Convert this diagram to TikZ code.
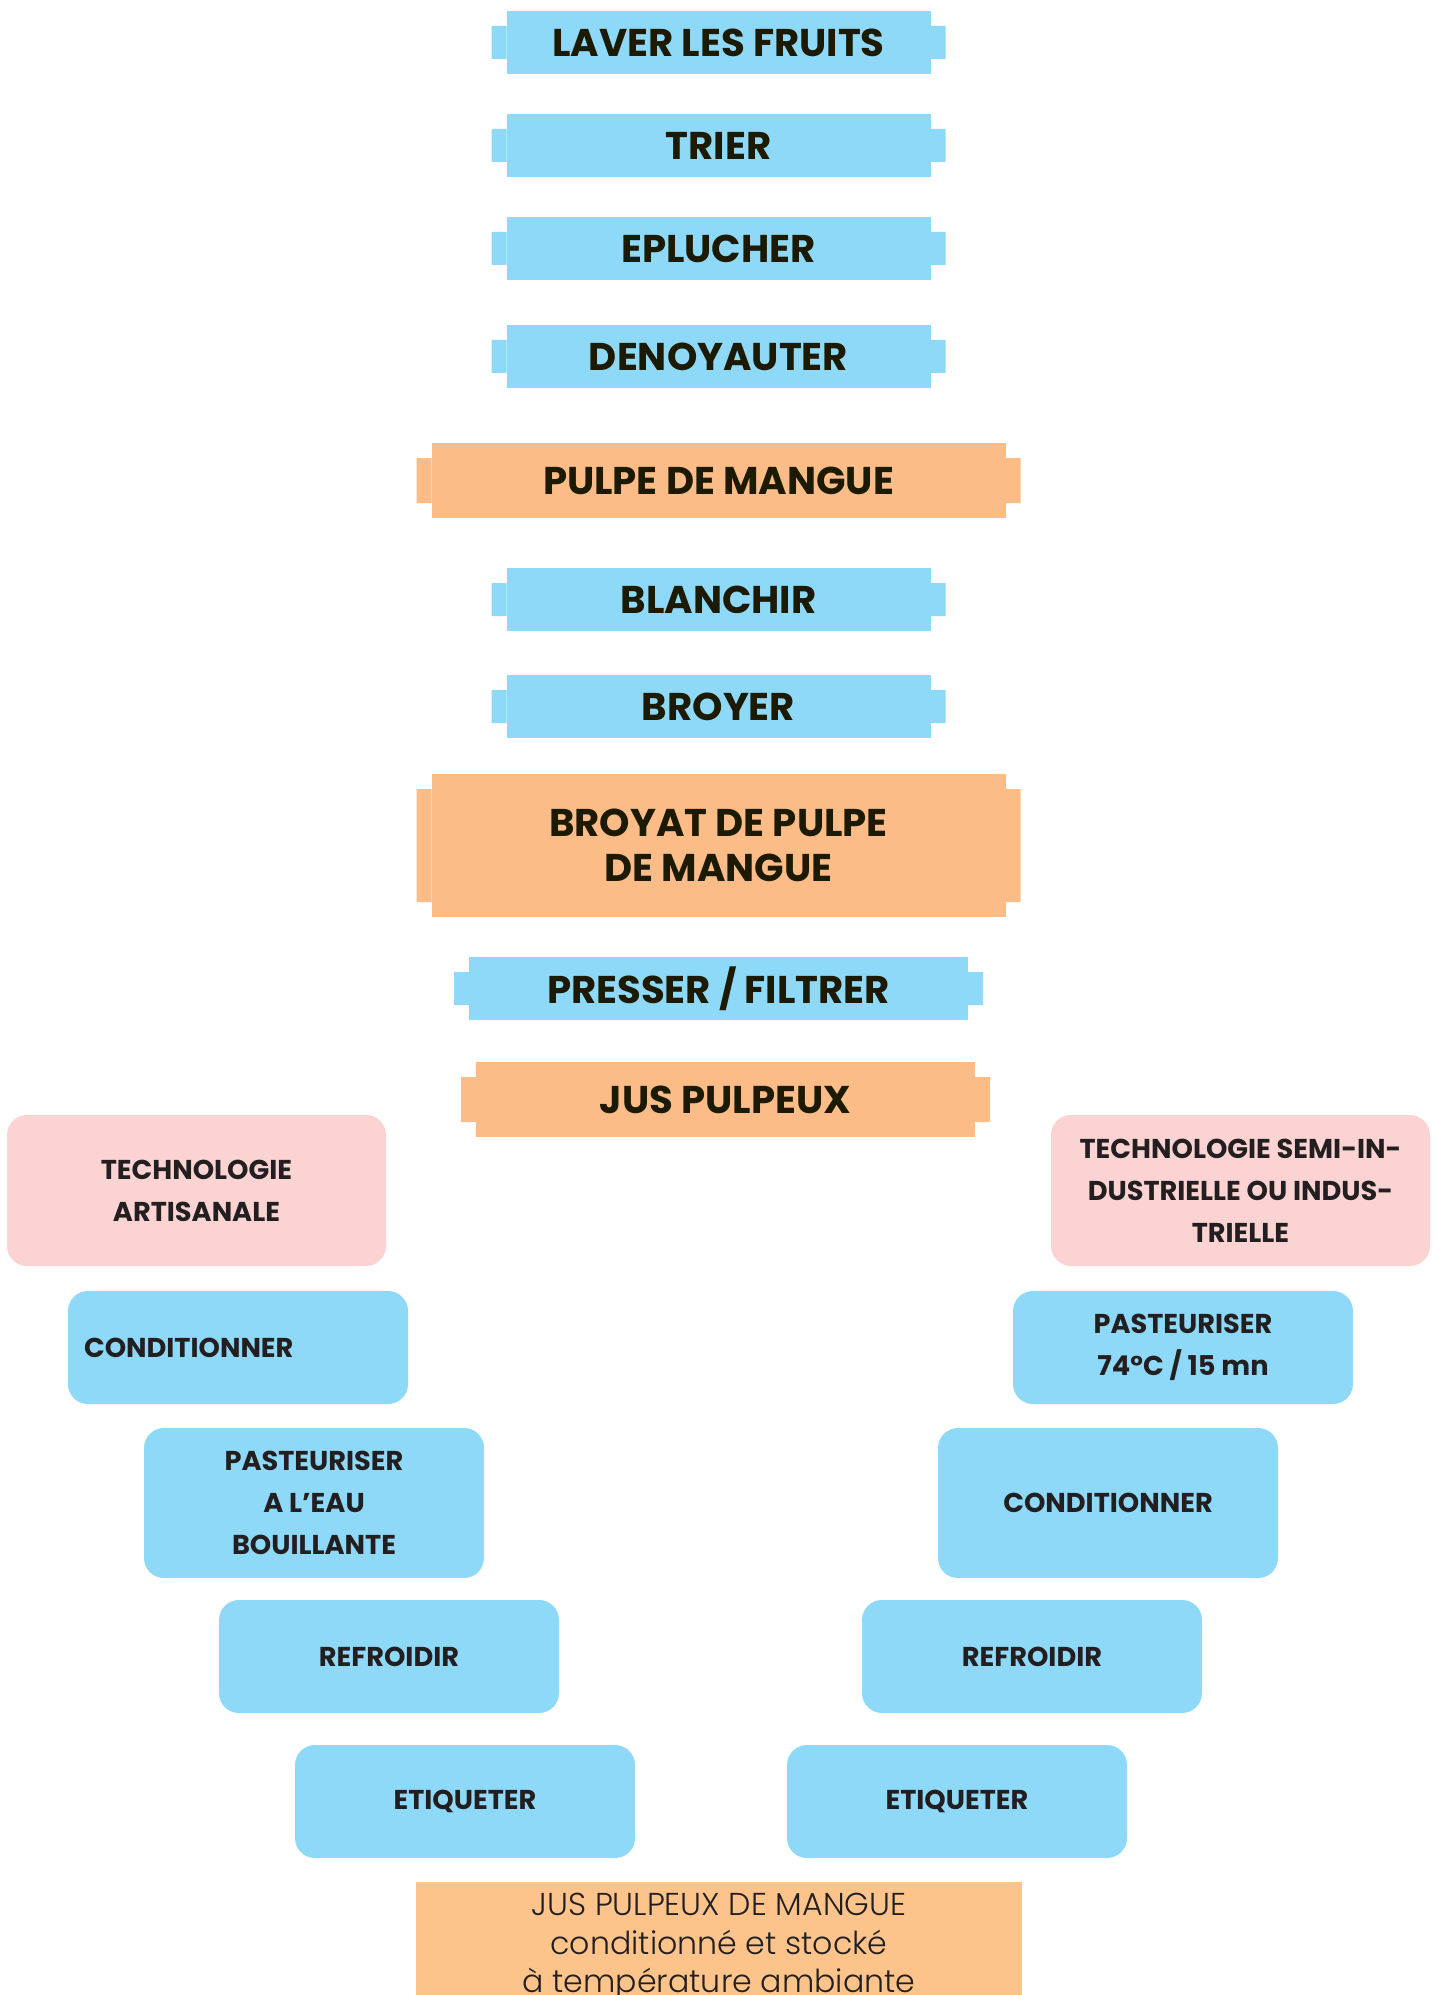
\documentclass[tikz,border=0pt]{standalone}
\usepackage{fontspec}
\setmainfont{Poppins}
\newfontfamily\lightfont{Poppins Light}
\usetikzlibrary{positioning}
\definecolor{stepblue}{HTML}{8ED8F8}
\definecolor{steporange}{HTML}{FBBC87}
\definecolor{steppink}{HTML}{FBD3D2}
\definecolor{endorange}{HTML}{FCC48A}
\definecolor{steptext}{HTML}{1C1A03}
\definecolor{roundtext}{HTML}{231F20}
\begin{document}
\begin{tikzpicture}[node distance=0.8cm,
    stepbox/.style = {fill=stepblue, minimum width=8.48cm, minimum height=1.26cm, inner sep=0pt, outer sep=0pt,
                      align=center, text=steptext, font=\bfseries\fontsize{22}{25.3}\selectfont},
    pulpbox/.style = {stepbox, fill=steporange, minimum width=11.48cm, minimum height=1.5cm},
    techbox/.style = {fill=steppink, rounded corners=0.4cm, minimum width=7.58cm, minimum height=3.02cm, inner sep=0pt,
                      outer sep=0pt, align=center, text=roundtext, font=\bfseries\fontsize{15.5}{24}\selectfont, anchor=north west},
    opbox/.style = {techbox, fill=stepblue, minimum width=6.8cm, minimum height=2.26cm}]
    \useasboundingbox (0,0) rectangle (28.74,-39.9);
    \clip (0,0) rectangle (28.74,-39.9);
    % tronc commun
    \node[stepbox] (1) at (14.37,-0.85) {LAVER LES FRUITS};
    \node[stepbox] (2) [below=0.80cm of 1] {TRIER};
    \node[stepbox] (3) [below=0.80cm of 2] {EPLUCHER};
    \node[stepbox] (4) [below=0.90cm of 3] {DENOYAUTER};
    \node[pulpbox] (5) [below=1.10cm of 4] {PULPE DE MANGUE};
    \node[stepbox] (6) [below=1.00cm of 5] {BLANCHIR};
    \node[stepbox] (7) [below=0.88cm of 6] {BROYER};
    \node[pulpbox, minimum height=2.86cm] (8) [below=0.72cm of 7] {BROYAT DE PULPE\\DE MANGUE};
    \node[stepbox, minimum width=9.98cm] (9) [below=0.80cm of 8] {PRESSER / FILTRER};
    \node[pulpbox, minimum width=9.98cm] (10) [below=0.84cm of 9, xshift=0.14cm] {JUS PULPEUX};
    \foreach \n in {1,2,3,4,6,7,9}
        \fill[stepblue] ([xshift=-0.3cm,yshift=0.3cm]\n.south west) rectangle ([yshift=-0.3cm]\n.north west)
            ([yshift=0.3cm]\n.south east) rectangle ([xshift=0.3cm,yshift=-0.3cm]\n.north east);
    \foreach \n in {5,8,10}
        \fill[steporange] ([xshift=-0.3cm,yshift=0.3cm]\n.south west) rectangle ([yshift=-0.3cm]\n.north west)
            ([yshift=0.3cm]\n.south east) rectangle ([xshift=0.3cm,yshift=-0.3cm]\n.north east);
    % deux filieres
    \node[techbox] (11) at (0.14,-22.30) {TECHNOLOGIE\\ARTISANALE};
    \node[techbox] (12) at (21.02,-22.30) {TECHNOLOGIE SEMI-IN-\\DUSTRIELLE OU INDUS-\\TRIELLE};
    \node[opbox, text width=6.16cm, inner xsep=0.32cm, align=left] (13) at (1.36,-25.82) {CONDITIONNER};
    \node[opbox, minimum height=3.0cm] (14) at (2.88,-28.56) {PASTEURISER\\A L’EAU\\BOUILLANTE};
    \node[opbox] (15) at (4.38,-32.00) {REFROIDIR};
    \node[opbox] (16) at (5.90,-34.90) {ETIQUETER};
    \node[opbox] (17) at (20.26,-25.82) {PASTEURISER\\74°C / 15 mn};
    \node[opbox, minimum height=3.0cm] (18) at (18.76,-28.56) {CONDITIONNER};
    \node[opbox] (19) at (17.24,-32.00) {REFROIDIR};
    \node[opbox] (20) at (15.74,-34.90) {ETIQUETER};
    \node[fill=endorange, minimum width=12.12cm, inner xsep=0pt, inner ysep=0.22cm, anchor=north, align=center,
          text=roundtext, font=\lightfont\fontsize{18}{21.8}\selectfont] (21) at (14.38,-37.64)
          {JUS PULPEUX DE MANGUE\\conditionné et stocké\\à température ambiante};
\end{tikzpicture}
\end{document}
